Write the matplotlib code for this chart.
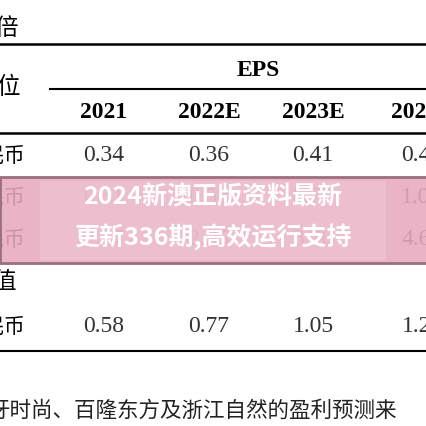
import matplotlib
matplotlib.use("Agg")
import matplotlib.pyplot as plt
from matplotlib.patches import Rectangle

years = ["2021", "2022E", "2023E", "2024E"]
row_labels = ["人民币", "人民币", "人民币", "人民币"]
row1 = ["0.34", "0.36", "0.41", "0.47"]
row2 = ["0.31", "0.58", "0.78", "1.04"]
row3 = ["2.17", "2.95", "3.76", "4.65"]
avg = ["0.58", "0.77", "1.05", "1.27"]
overlay = ["2024新澳正版资料最新", "更新336期,高效运行支持"]
footer = "牙时尚、百隆东方及浙江自然的盈利预测来"

cjk = ["Noto Sans CJK SC", "DejaVu Sans"]
serif = ["Liberation Serif", "DejaVu Serif"]

fig = plt.figure(figsize=(4.27, 4.27), dpi=100)
ax = fig.add_axes([0, 0, 1, 1])
ax.set_xlim(0, 427); ax.set_ylim(427, 0); ax.axis("off")

colx = [104, 209, 313, 422]
ax.text(-6, 28, "倍", family=cjk, fontsize=17, va="center", ha="left")
ax.plot([0, 427], [45, 45], color="black", lw=1.8)
ax.text(258, 70, "EPS", family=serif, fontsize=17, weight="bold", ha="center", va="center")
ax.text(-4, 88, "位", family=cjk, fontsize=17, va="center")
ax.plot([50, 427], [90, 90], color="black", lw=1.5)
for x, y in zip(colx, years):
    ax.text(x, 112, y, family=serif, fontsize=17, weight="bold", ha="center", va="center")
ax.plot([0, 427], [134, 134], color="black", lw=1.8)

rows_y = [156, 198, 240]
for yy, vals in zip(rows_y, [row1, row2, row3]):
    ax.text(-16, yy, row_labels[0][1:], family=cjk, fontsize=15, va="center")
    for x, v in zip(colx, vals):
        ax.text(x, yy, v, family=serif, fontsize=17, ha="center", va="center", color="#333333")
ax.text(-8, 283, "均值"[1:], family=cjk, fontsize=17, va="center")
ax.text(-16, 327, row_labels[3][1:], family=cjk, fontsize=15, va="center")
for x, v in zip(colx, avg):
    ax.text(x, 327, v, family=serif, fontsize=17, ha="center", va="center", color="#333333")
ax.plot([0, 427], [352, 352], color="black", lw=1.5)

ax.add_patch(Rectangle((0, 178), 427, 86, color="#e8aabf", alpha=0.88, zorder=3))
ax.add_patch(Rectangle((0, 178), 427, 86, fill=False, ec="#9a7080", lw=2, zorder=3))
ax.add_patch(Rectangle((40, 182), 345, 78, color="#f0c6d4", alpha=0.6, zorder=3))
ax.text(213, 197, overlay[0], family=cjk, fontsize=18, weight="bold", color="white", ha="center", va="center", zorder=4)
ax.text(213, 237, overlay[1], family=cjk, fontsize=18, weight="bold", color="white", ha="center", va="center", zorder=4)

ax.text(-12, 411, footer, family=cjk, fontsize=15.5, va="center", ha="left", color="#222222")
fig.savefig("out.png", dpi=100, facecolor="white")
